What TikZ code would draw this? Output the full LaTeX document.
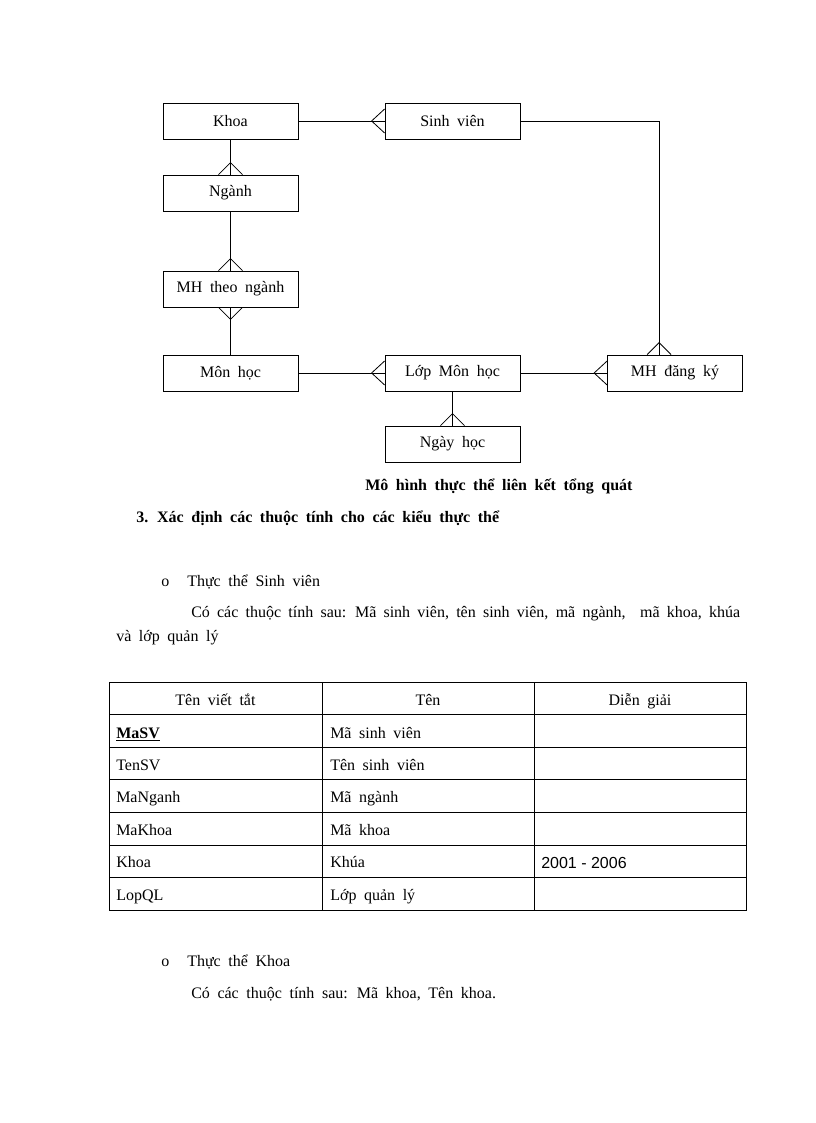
\documentclass[tikz,border=0pt]{standalone}
\usepackage{fontspec}
\setmainfont[WordSpace=1.9]{Liberation Serif}
\newfontfamily\arialfont{Liberation Sans}
\usetikzlibrary{calc}

\begin{document}
\begin{tikzpicture}[x=0.75pt,y=-0.75pt,
	entity/.style={draw,line width=0.6pt,minimum width=101.25pt,minimum height=27pt,inner sep=0pt,font=\fontsize{12}{14}\selectfont},
	link/.style={line width=0.6pt},
	txt/.style={anchor=base west,inner sep=0pt,font=\fontsize{12}{14}\selectfont},
	hdr/.style={anchor=base,inner sep=0pt,font=\fontsize{12}{14}\selectfont}]
				\useasboundingbox (0,0) rectangle (816,1123);

				\node[entity] (khoa) at (230.5,121) {Khoa};
				\node[entity] (sv) at (452.5,121) {Sinh viên};
				\node[entity] (nganh) at (230.5,193) {Ngành};
				\node[entity] (mhtn) at (230.5,289) {MH theo ngành};
				\node[entity] (mon) at (230.5,373) {Môn học};
				\node[entity] (lop) at (452.5,373) {Lớp Môn học};
				\node[entity] (dk) at (675,373) {MH đăng ký};
				\node[entity] (ngay) at (452.5,444) {Ngày học};
				\coordinate (dkin) at ($(dk.north west)+(52,0)$);

				\draw[link] (khoa) -- (sv);
				\draw[link] (khoa) -- (nganh);
				\draw[link] (nganh) -- (mhtn);
				\draw[link] (mhtn) -- (mon);
				\draw[link] (mon) -- (lop);
				\draw[link] (lop) -- (dk);
				\draw[link] (lop) -- (ngay);
				\draw[link] (sv.east) -| (dkin);

				\draw[link] (sv.west) +(0,-12) -- +(-13,0) -- +(0,12);
				\draw[link] (lop.west) +(0,-12) -- +(-13,0) -- +(0,12);
				\draw[link] (dk.west) +(0,-12) -- +(-13,0) -- +(0,12);
				\draw[link] (nganh.north) +(-12,0) -- +(0,-12) -- +(12,0);
				\draw[link] (mhtn.north) +(-12,0) -- +(0,-12) -- +(12,0);
				\draw[link] (mhtn.south) +(-12,0) -- +(0,12) -- +(12,0);
				\draw[link] (ngay.north) +(-12,0) -- +(0,-12) -- +(12,0);
				\draw[link] (dkin) +(-12,0) -- +(0,-12) -- +(12,0);

				\node[txt,font=\fontsize{12}{14}\selectfont\bfseries] (cap) at (365,490) {Mô hình thực thể liên kết tổng quát};
				\node[txt,font=\fontsize{12}{14}\selectfont\bfseries] (sec) at (136,522) {3. Xác định các thuộc tính cho các kiểu thực thể};
				\node[txt] (bul1) at (161,586) {o};
				\node[txt] (ent1) at (187,586) {Thực thể Sinh viên};
				\node[txt] (par1) at (191,617) {\makebox[411.75pt][s]{Có các thuộc tính sau: Mã sinh viên, tên sinh viên, mã ngành,\ \ mã khoa, khúa}};
				\node[txt] (par1b) at (116,641) {và lớp quản lý};

				\draw[link] (109,682) rectangle (746,910);
				\foreach \y in {714.6,747.1,779.7,812.3,844.9,877.4}
					\draw[link] (109,\y) -- (746,\y);
				\draw[link] (322,682) -- (322,910);
				\draw[link] (534,682) -- (534,910);

				\node[hdr] (h1) at (215.5,705) {Tên viết tắt};
				\node[hdr] (h2) at (428,705) {Tên};
				\node[hdr] (h3) at (640,705) {Diễn giải};
				\node[txt] (ab1) at (116,738) {\underline{\textbf{MaSV}}};
				\node[txt] (nm1) at (330,738) {Mã sinh viên};
				\foreach \a/\b [count=\i from 2] in {TenSV/Tên sinh viên,MaNganh/Mã ngành,MaKhoa/Mã khoa,Khoa/Khúa,LopQL/Lớp quản lý}{
					\node[txt] (ab\i) at (116,{737.6+32.57*(\i-1)}) {\a};
					\node[txt] (nm\i) at (330,{737.6+32.57*(\i-1)}) {\b};
				}
				\node[txt,font=\fontsize{12}{14}\arialfont] (dg5) at (541,868) {2001 - 2006};

				\node[txt] (bul2) at (161,966) {o};
				\node[txt] (ent2) at (187,966) {Thực thể Khoa};
				\node[txt] (par2) at (191,998) {Có các thuộc tính sau: Mã khoa, Tên khoa.};
			\end{tikzpicture}
\end{document}
